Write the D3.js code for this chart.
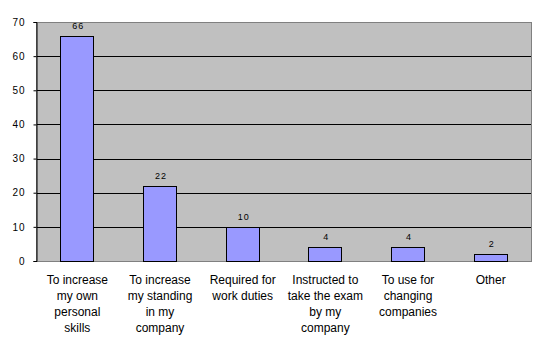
<!DOCTYPE html>
<html>
<head>
<meta charset="utf-8">
<script src="https://cdn.jsdelivr.net/npm/d3@7"></script>
<style>
  html, body { margin: 0; padding: 0; background: #fff; }
  text { font-family: Arial, "Liberation Sans", sans-serif; fill: #000; }
</style>
</head>
<body>
<div id="chart"></div>
<script>
"use strict";

// data
const categories = ["c1", "c2", "c3", "c4", "c5", "c6"];
const values = [66, 22, 10, 4, 4, 2];
const categoryLabels = [
    ["To increase", "my own", "personal", "skills"],
    ["To increase", "my standing", "in my", "company"],
    ["Required for", "work duties"],
    ["Instructed to", "take the exam", "by my", "company"],
    ["To use for", "changing", "companies"],
    ["Other"]
];
const yTicks = [0, 10, 20, 30, 40, 50, 60, 70];

const svgWidth = 549,
    svgHeight = 354;

const margin = { top: 22, right: 17, bottom: 93, left: 36 },
    plotW = svgWidth - margin.left - margin.right,
    plotH = svgHeight - margin.top - margin.bottom;

const svg = d3.select("#chart").append("svg")
    .attr("width", svgWidth)
    .attr("height", svgHeight);

const g = svg.append("g")
    .attr("transform", "translate(" + margin.left + "," + margin.top + ")");

const x = d3.scaleBand()
    .domain(categories)
    .range([0, plotW])
    .paddingInner(0.6)
    .paddingOuter(0.3);

const y = d3.scaleLinear()
    .domain([0, 70])
    .range([plotH, 0]);

// plot background
g.append("rect")
    .attr("x", 0).attr("y", 0)
    .attr("width", plotW).attr("height", plotH)
    .attr("fill", "#c0c0c0");

// gridlines
g.append("g")
    .selectAll("line")
    .data(yTicks.filter(d => d > 0 && d < 70))
    .enter().append("line")
    .attr("x1", 0).attr("x2", plotW)
    .attr("y1", d => Math.round(y(d)) + 0.5)
    .attr("y2", d => Math.round(y(d)) + 0.5)
    .attr("stroke", "#000")
    .attr("stroke-width", 1);

// plot border
g.append("rect")
    .attr("x", 0.5).attr("y", 0.5)
    .attr("width", plotW - 1).attr("height", plotH)
    .attr("fill", "none")
    .attr("stroke", "#808080")
    .attr("stroke-width", 1);

// bars
g.append("g")
    .selectAll("rect")
    .data(values)
    .enter().append("rect")
    .attr("x", (d, i) => Math.floor(x(categories[i])) + 0.5)
    .attr("y", d => Math.round(y(d)) + 0.5)
    .attr("width", Math.round(x.bandwidth()))
    .attr("height", d => Math.round(y(0)) - Math.round(y(d)))
    .attr("fill", "#9999ff")
    .attr("stroke", "#000")
    .attr("stroke-width", 1);

// value labels
g.append("g")
    .selectAll("text")
    .data(values)
    .enter().append("text")
    .attr("x", (d, i) => x(categories[i]) + x.bandwidth() / 2 + 1)
    .attr("y", d => y(d) - 7)
    .attr("text-anchor", "middle")
    .style("font-size", "9px")
    .style("letter-spacing", "1px")
    .text(d => d);

// y axis
const yAxis = d3.axisLeft(y)
    .tickValues(yTicks)
    .tickSize(3)
    .tickPadding(8);

const ya = g.append("g")
    .attr("transform", "translate(0.5,0)")
    .call(yAxis);
ya.select(".domain").attr("stroke", "#000");
ya.selectAll(".tick line").attr("stroke", "#000");
ya.selectAll("text")
    .style("font-size", "10px")
    .style("letter-spacing", "1px")
    .attr("fill", "#000");

// category labels
const lab = g.append("g")
    .selectAll("text")
    .data(categoryLabels)
    .enter().append("text")
    .attr("text-anchor", "middle")
    .attr("transform", (d, i) =>
        "translate(" + (x(categories[i]) + x.bandwidth() / 2) + "," + (plotH + 23) + ")")
    .style("font-size", "12px");

lab.selectAll("tspan")
    .data(d => d)
    .enter().append("tspan")
    .attr("x", 0)
    .attr("y", (d, i) => i * 16)
    .text(d => d);
</script>
</body>
</html>
